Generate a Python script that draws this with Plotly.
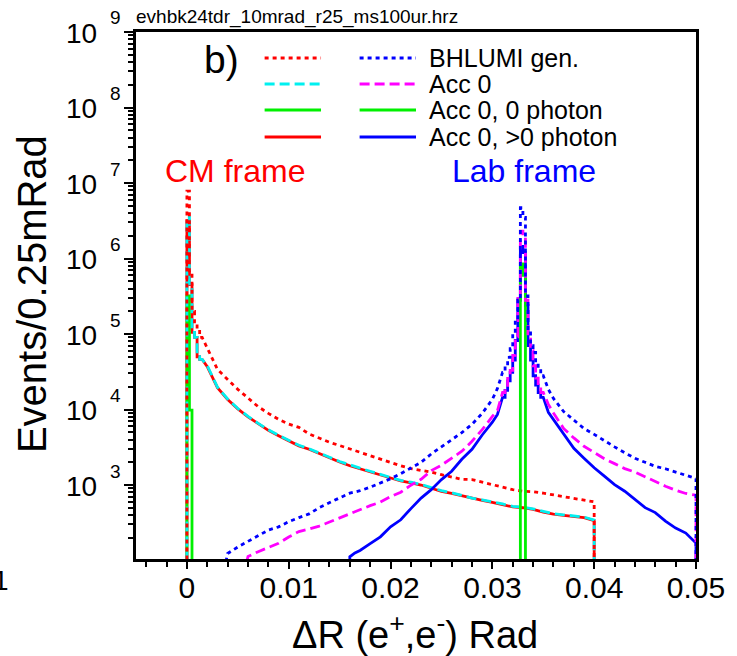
import plotly.graph_objects as go

FONT = "Liberation Sans, Arial, Helvetica, sans-serif"
W, H = 737, 656
ML, MR, MT, MB = 136, 35, 32, 97
PW, PH = W - ML - MR, H - MT - MB

RED, BLUE, CYAN, MAGENTA, GREEN = "#ff0000", "#0000ff", "#00f0f0", "#ff00ff", "#00f000"
DOT, DASH = "4px,4px", "10px,5px"
LW = 2.8

EMPTY = 1.0  # content of an empty bin (lies below the visible y range)

# ---------------- CM frame ----------------
cm_spike_edges = [0.0, 0.00025, 0.0005, 0.00075, 0.001, 0.00125, 0.0015]
cm_gen_spike = [7.8e6, 6.5e5, 2.0e5, 1.45e5, 1.15e5, 9.0e4]
cm_acc_spike = [3.5e6, 4.6e5, 1.05e5, 9.0e4, 5.0e4, 4.6e4]
cm_gt0_spike = [3.18e6, 4.5e5, 1.05e5, 9.0e4, 5.0e4, 4.6e4]

cm_tail_x = [k / 1000 for k in range(2, 41)]
cm_gen_tail = [6.6e4, 3.4e4, 2.5e4, 1.85e4, 1.42e4, 1.09e4, 8.9e3, 7.4e3, 6.4e3, 5.8e3,
               4.75e3, 4.15e3, 3.68e3, 3.33e3, 3.0e3, 2.68e3, 2.42e3, 2.17e3, 1.98e3, 1.8e3,
               1.65e3, 1.58e3, 1.48e3, 1.37e3, 1.27e3, 1.19e3, 1.18e3, 1.09e3, 1.01e3, 935,
               867, 828, 813, 780, 738, 701, 670, 630, 598]
cm_acc_tail = [3.8e4, 1.98e4, 1.38e4, 1.03e4, 8.1e3, 6.56e3, 5.38e3, 4.55e3, 3.9e3, 3.36e3,
               3.02e3, 2.63e3, 2.33e3, 2.05e3, 1.83e3, 1.67e3, 1.52e3, 1.38e3, 1.26e3, 1.15e3,
               1.09e3, 1.02e3, 922, 842, 791, 733, 670, 636, 600, 561,
               520, 509, 482, 444, 417, 403, 390, 376, 343]
cm_gt0_tail = [3.7e4, 1.95e4, 1.36e4, 1.02e4, 8.0e3, 6.5e3, 5.3e3, 4.5e3, 3.85e3, 3.3e3,
               2.98e3, 2.6e3, 2.3e3, 2.02e3, 1.8e3, 1.64e3, 1.5e3, 1.36e3, 1.24e3, 1.13e3,
               1.07e3, 1.0e3, 905, 826, 776, 720, 660, 626, 590, 552,
               512, 500, 474, 437, 410, 396, 384, 370, 338]
cm_end = 0.04

cm_0ph_edges = [0.0, 0.00025, 0.0005]
cm_0ph_counts = [3.2e5, 9.8e3]

# ---------------- Lab frame ----------------
lab_gen_left_x = [0.0035] + [k / 1000 for k in range(4, 31)] + [0.0305]
lab_gen_left = [60, 124, 151, 178, 214, 253, 279, 327, 370, 414, 501, 587, 676, 779, 841,
                936, 1.06e3, 1.21e3, 1.41e3, 1.69e3, 2.0e3, 2.58e3, 3.18e3, 3.91e3, 4.94e3,
                6.36e3, 8.9e3, 1.36e4, 1.9e4]
lab_acc_left_x = [0.0055] + [k / 1000 for k in range(6, 31)] + [0.0305]
lab_acc_left = [60, 113, 131, 149, 169, 205, 242, 261, 286, 323, 367, 411, 464, 533, 593,
                701, 804, 995, 1.19e3, 1.55e3, 1.83e3, 2.26e3, 2.8e3, 3.8e3, 5.4e3, 8.1e3, 9.7e3]
lab_gt0_left_x = [0.016, 0.016, 0.0165] + [k / 1000 for k in range(17, 31)] + [0.0305]
lab_gt0_left = [EMPTY, 112, 126, 136, 167, 206, 280, 346, 487, 670, 867, 1.18e3, 1.52e3,
                2.19e3, 2.97e3, 4.6e3, 6.8e3, 8.6e3]

lab_peak_edges = [round(0.031 + 0.00025 * i, 5) for i in range(17)]
lab_gen_peak = [3.1e4, 3.8e4, 4.9e4, 6.4e4, 9.5e4, 1.5e5, 2.8e5, 4.7e6,
                3.5e6, 3.2e5, 1.1e5, 7.0e4, 5.7e4, 4.2e4, 3.5e4, 2.8e4]
lab_acc_peak = [1.68e4, 1.96e4, 2.58e4, 3.3e4, 5.2e4, 9.2e4, 3.2e5, 2.3e6,
                1.8e6, 2.8e5, 9.5e4, 6.0e4, 3.8e4, 2.6e4, 2.1e4, 1.68e4]
lab_gt0_peak = [1.45e4, 1.79e4, 2.4e4, 3.1e4, 4.5e4, 8.2e4, 2.8e5, 1.45e6,
                1.2e6, 2.4e5, 7.0e4, 4.5e4, 2.8e4, 2.1e4, 1.68e4, 1.45e4]

lab_right_x = [0.0355] + [k / 1000 for k in range(36, 51)]
lab_gen_right = [1.85e4, 1.4e4, 9.4e3, 7.2e3, 5.6e3, 4.69e3, 3.85e3, 3.2e3, 2.67e3, 2.26e3,
                 2.0e3, 1.77e3, 1.64e3, 1.48e3, 1.33e3, 1.22e3]
lab_acc_right = [1.17e4, 9.0e3, 5.6e3, 4.2e3, 3.26e3, 2.67e3, 2.23e3, 1.92e3, 1.65e3, 1.48e3,
                 1.28e3, 1.1e3, 965, 853, 772, 733]
lab_gt0_right = [9.2e3, 7.4e3, 4.7e3, 3.06e3, 2.26e3, 1.69e3, 1.31e3, 1.01e3, 828, 650,
                 501, 431, 332, 269, 231, 170]
lab_end = 0.05

lab_0ph_edges = [0.03275, 0.033, 0.03325]
lab_0ph_counts = [8.5e5, 6.0e5]

# axis ticks
x_major = [0.0, 0.01, 0.02, 0.03, 0.04, 0.05]
x_major_text = ["0", "0.01", "0.02", "0.03", "0.04", "0.05"]
x_minor = [-0.004, -0.002, 0.002, 0.004, 0.006, 0.008, 0.012, 0.014, 0.016, 0.018,
           0.022, 0.024, 0.026, 0.028, 0.032, 0.034, 0.036, 0.038, 0.042, 0.044,
           0.046, 0.048]
y_decades = [3, 4, 5, 6, 7, 8, 9]
Y_RANGE = [2.02, 9.0]


def step_xy(edges, counts):
    xs, ys = [], []
    for lo, hi, c in zip(edges[:-1], edges[1:], counts):
        xs += [lo, hi]
        ys += [c, c]
    return xs, ys


def cm_path(spike, tail):
    sx, sy = step_xy(cm_spike_edges, spike)
    return [0.0] + sx + cm_tail_x + [cm_end], [EMPTY] + sy + tail + [EMPTY]


def lab_path(left_x, left, peak, right):
    sx, sy = step_xy(lab_peak_edges, peak)
    return left_x + sx + lab_right_x + [lab_end], left + sy + right + [EMPTY]


def single_bins(edges, counts):
    sx, sy = step_xy(edges, counts)
    return [edges[0]] + sx + [edges[-1]], [EMPTY] + sy + [EMPTY]


series = [
    (cm_path(cm_gt0_spike, cm_gt0_tail), RED, "solid"),
    (single_bins(cm_0ph_edges, cm_0ph_counts), GREEN, "solid"),
    (cm_path(cm_acc_spike, cm_acc_tail), CYAN, DASH),
    (cm_path(cm_gen_spike, cm_gen_tail), RED, DOT),
    (lab_path(lab_gt0_left_x, lab_gt0_left, lab_gt0_peak, lab_gt0_right), BLUE, "solid"),
    (single_bins(lab_0ph_edges, lab_0ph_counts), GREEN, "solid"),
    (lab_path(lab_acc_left_x, lab_acc_left, lab_acc_peak, lab_acc_right), MAGENTA, DASH),
    (lab_path(lab_gen_left_x, lab_gen_left, lab_gen_peak, lab_gen_right), BLUE, DOT),
]

fig = go.Figure()
for (xs, ys), color, dash in series:
    fig.add_trace(go.Scatter(x=xs, y=ys, mode="lines",
                             line=dict(color=color, width=LW, dash=dash),
                             hoverinfo="skip"))


def px_x(px):
    return (px - ML) / PW


def px_y(py):
    return (H - MB - py) / PH


def text(s, px, py, size, color="black", xanchor="left", yanchor="middle", angle=0):
    fig.add_annotation(text=s, x=px_x(px), y=px_y(py), xref="paper", yref="paper",
                       xanchor=xanchor, yanchor=yanchor, showarrow=False, textangle=angle,
                       font=dict(family=FONT, size=size, color=color))


# y tick labels: "10" with the exponent raised beside it
for n in y_decades:
    yp = H - MB - (n - Y_RANGE[0]) / (Y_RANGE[1] - Y_RANGE[0]) * PH
    text("10", 99, yp + 1, 28, xanchor="right")
    text(str(n), 108, yp - 14, 19, xanchor="left")

# titles and labels
text("evhbk24tdr_10mrad_r25_ms100ur.hrz", 134, 17, 19)
text("Events/0.25mRad", 31, 294, 40, xanchor="center", angle=-90)
text("ΔR (e<sup>+</sup>,e<sup>-</sup>) Rad", 418, 632, 38, xanchor="center")
text("b)", 203, 59, 39)
text("CM frame", 163, 171, 32, color=RED)
text("Lab frame", 453, 171, 32, color=BLUE)
text("1", 10, 580, 28, xanchor="right")

# two-column legend: CM style | Lab style | label
legend_rows = [
    (58, (RED, DOT), (BLUE, DOT), "BHLUMI gen."),
    (84, (CYAN, DASH), (MAGENTA, DASH), "Acc 0"),
    (110, (GREEN, "solid"), (GREEN, "solid"), "Acc 0, 0 photon"),
    (137, (RED, "solid"), (BLUE, "solid"), "Acc 0, >0 photon"),
]
for py, (c1, d1), (c2, d2), label in legend_rows:
    for (x0, x1), c, d in (((266, 323), c1, d1), ((362, 419), c2, d2)):
        fig.add_shape(type="line", xref="paper", yref="paper",
                      x0=px_x(x0), x1=px_x(x1), y0=px_y(py), y1=px_y(py),
                      line=dict(color=c, width=LW, dash=d))
    text(label, 430, py, 25)

y_minor = [m * 10 ** n for n in range(2, 9) for m in range(2, 10)
           if m * 10 ** n > 10 ** Y_RANGE[0]]

fig.update_xaxes(range=[-0.005, 0.05], showgrid=False, zeroline=False,
                 showline=True, linecolor="black", linewidth=2.5, mirror=True,
                 ticks="outside", ticklen=7, tickwidth=2, tickcolor="black",
                 tickmode="array", tickvals=x_major, ticktext=x_major_text,
                 tickfont=dict(family=FONT, size=30, color="black"),
                 ticklabelstandoff=-7,
                 minor=dict(tickmode="array", tickvals=x_minor, ticks="outside",
                            ticklen=5, tickwidth=2, tickcolor="black"))
fig.update_yaxes(type="log", range=Y_RANGE, showgrid=False, zeroline=False,
                 showline=True, linecolor="black", linewidth=2.5, mirror=True,
                 ticks="outside", ticklen=9, tickwidth=2, tickcolor="black",
                 tickmode="array", tickvals=[10 ** n for n in y_decades],
                 showticklabels=False,
                 minor=dict(tickmode="array", tickvals=y_minor, ticks="outside",
                            ticklen=5, tickwidth=1.5, tickcolor="black"))

fig.update_layout(width=W, height=H, margin=dict(l=ML, r=MR, t=MT, b=MB, pad=0),
                  paper_bgcolor="white", plot_bgcolor="white", showlegend=False,
                  font=dict(family=FONT, color="black"))

fig.write_html("out.html")
